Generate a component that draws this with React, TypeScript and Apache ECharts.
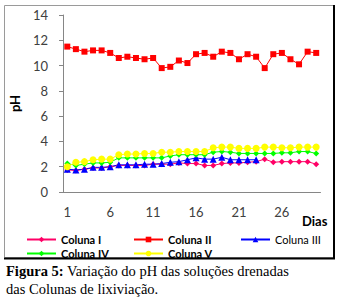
import React, { useEffect, useRef } from "react";
import * as echarts from "echarts";

const days = Array.from({ length: 30 }, (_, i) => String(i + 1));
const colunaI = [1.75, 1.7, 1.8, 1.9, 1.9, 2.0, 2.1, 2.1, 2.1, 2.1, 2.2, 2.2, 2.2, 2.3, 2.25, 2.25, 2.1, 2.1, 2.25, 2.3, 2.3, 2.35, 2.4, 2.6, 2.35, 2.4, 2.4, 2.4, 2.4, 2.2];
const colunaII = [11.5, 11.3, 11.1, 11.2, 11.2, 11.0, 10.6, 10.7, 10.6, 10.5, 10.6, 9.8, 9.9, 10.4, 10.2, 10.9, 11.0, 10.7, 11.1, 11.0, 10.5, 10.9, 10.7, 9.8, 10.9, 11.0, 10.5, 10.1, 11.1, 11.0];
const colunaIII = [1.8, 1.75, 1.8, 1.95, 1.95, 2.0, 2.15, 2.15, 2.15, 2.2, 2.2, 2.25, 2.35, 2.4, 2.55, 2.7, 2.6, 2.6, 2.75, 2.55, 2.55, 2.55, 2.55, null, null, null, null, null, null, null];
const colunaIV = [2.25, 2.1, 2.2, 2.3, 2.3, 2.35, 2.7, 2.7, 2.7, 2.7, 2.7, 2.7, 2.85, 2.95, 2.95, 2.95, 2.95, 3.15, 3.2, 3.15, 3.05, 3.05, 3.05, 3.05, 3.05, 3.1, 3.1, 3.2, 3.2, 3.05];
const colunaV = [2.0, 2.35, 2.4, 2.55, 2.6, 2.6, 2.95, 3.0, 3.0, 3.05, 3.05, 3.15, 3.15, 3.2, 3.2, 3.2, 3.2, 3.5, 3.55, 3.55, 3.45, 3.45, 3.45, 3.55, 3.55, 3.5, 3.5, 3.55, 3.55, 3.55];

const seriesDefs = [
  { name: "Coluna I", data: colunaI, color: "#FF0066", symbol: "diamond", size: 6, bold: true, left: 21, top: 229 },
  { name: "Coluna II", data: colunaII, color: "#FF0000", symbol: "rect", size: 6, bold: true, left: 128, top: 229 },
  { name: "Coluna III", data: colunaIII, color: "#0000FF", symbol: "triangle", size: 7, bold: false, left: 235, top: 229 },
  { name: "Coluna IV", data: colunaIV, color: "#00FF00", symbol: "diamond", size: 6, bold: true, left: 21, top: 243 },
  { name: "Coluna V", data: colunaV, color: "#FFFF00", symbol: "circle", size: 7, bold: true, left: 128, top: 243 },
];

const FONT = "Lato, 'Open Sans', sans-serif";
const SERIF = "'Liberation Serif', serif";

export default function App() {
  const ref = useRef<HTMLDivElement>(null);
  useEffect(() => {
    document.body.style.margin = "0";
    const chart = echarts.init(ref.current!, null, { renderer: "svg" });
    chart.setOption({
      animation: false,
      backgroundColor: "#ffffff",
      grid: { left: 55, top: 15, right: 18.5, height: 177 },
      xAxis: {
        type: "category",
        data: days,
        boundaryGap: true,
        axisLine: { lineStyle: { color: "#868686", width: 1 } },
        axisTick: { interval: 0, length: 4, lineStyle: { color: "#868686" } },
        axisLabel: { interval: 4, margin: 13, fontSize: 13, color: "#404040", fontFamily: FONT },
      },
      yAxis: {
        type: "value",
        min: 0,
        max: 14,
        interval: 2,
        name: "pH",
        nameLocation: "middle",
        nameGap: 42,
        nameTextStyle: { fontSize: 13, fontWeight: "bold", color: "#000", fontFamily: FONT },
        axisLine: { show: true, lineStyle: { color: "#868686", width: 1 } },
        axisTick: { show: true, length: 4, lineStyle: { color: "#868686" } },
        splitLine: { show: false },
        axisLabel: { margin: 15, fontSize: 13, color: "#404040", fontFamily: FONT },
      },
      legend: seriesDefs.map((s) => ({
        left: s.left,
        top: s.top,
        itemWidth: 29,
        itemHeight: 7,
        itemGap: 5,
        data: [{ name: s.name, textStyle: { fontWeight: s.bold ? "bold" : "normal" } }],
        textStyle: { fontSize: 11, color: "#000", fontFamily: FONT },
      })),
      series: seriesDefs.map((s) => ({
        name: s.name,
        type: "line",
        data: s.data,
        symbol: s.symbol,
        symbolSize: s.size,
        showSymbol: true,
        showAllSymbol: true,
        connectNulls: false,
        itemStyle: { color: s.color },
        lineStyle: { color: s.color, width: 1 },
      })),
      graphic: [
        {
          type: "rect",
          shape: { x: 4.5, y: 5.5, width: 329, height: 252 },
          style: { fill: "none", stroke: "#9a9a9a", lineWidth: 1 },
          silent: true,
        },
        {
          type: "line",
          shape: { x1: 334, y1: 5, x2: 334, y2: 259 },
          style: { stroke: "#000", lineWidth: 2 },
          silent: true,
        },
        {
          type: "line",
          shape: { x1: 4, y1: 258.5, x2: 335, y2: 258.5 },
          style: { stroke: "#000", lineWidth: 2 },
          silent: true,
        },
        {
          type: "text",
          x: 302,
          y: 221,
          style: { text: "Dias", fontSize: 13, fontWeight: "bold", fill: "#000", fontFamily: FONT, verticalAlign: "middle" },
        },
        {
          type: "text",
          x: 6,
          y: 271,
          style: {
            text: "{b|Figura 5:} Variação do pH das soluções drenadas",
            fontSize: 14.5,
            fill: "#000",
            fontFamily: SERIF,
            verticalAlign: "middle",
            rich: { b: { fontWeight: "bold", fontSize: 14.5, fontFamily: SERIF } },
          },
        },
        {
          type: "text",
          x: 6,
          y: 289,
          style: {
            text: "das Colunas de lixiviação.",
            fontSize: 14.5,
            fill: "#000",
            fontFamily: SERIF,
            verticalAlign: "middle",
          },
        },
      ],
    });
    return () => chart.dispose();
  }, []);
  return <div ref={ref} style={{ width: 339, height: 301 }} />;
}
